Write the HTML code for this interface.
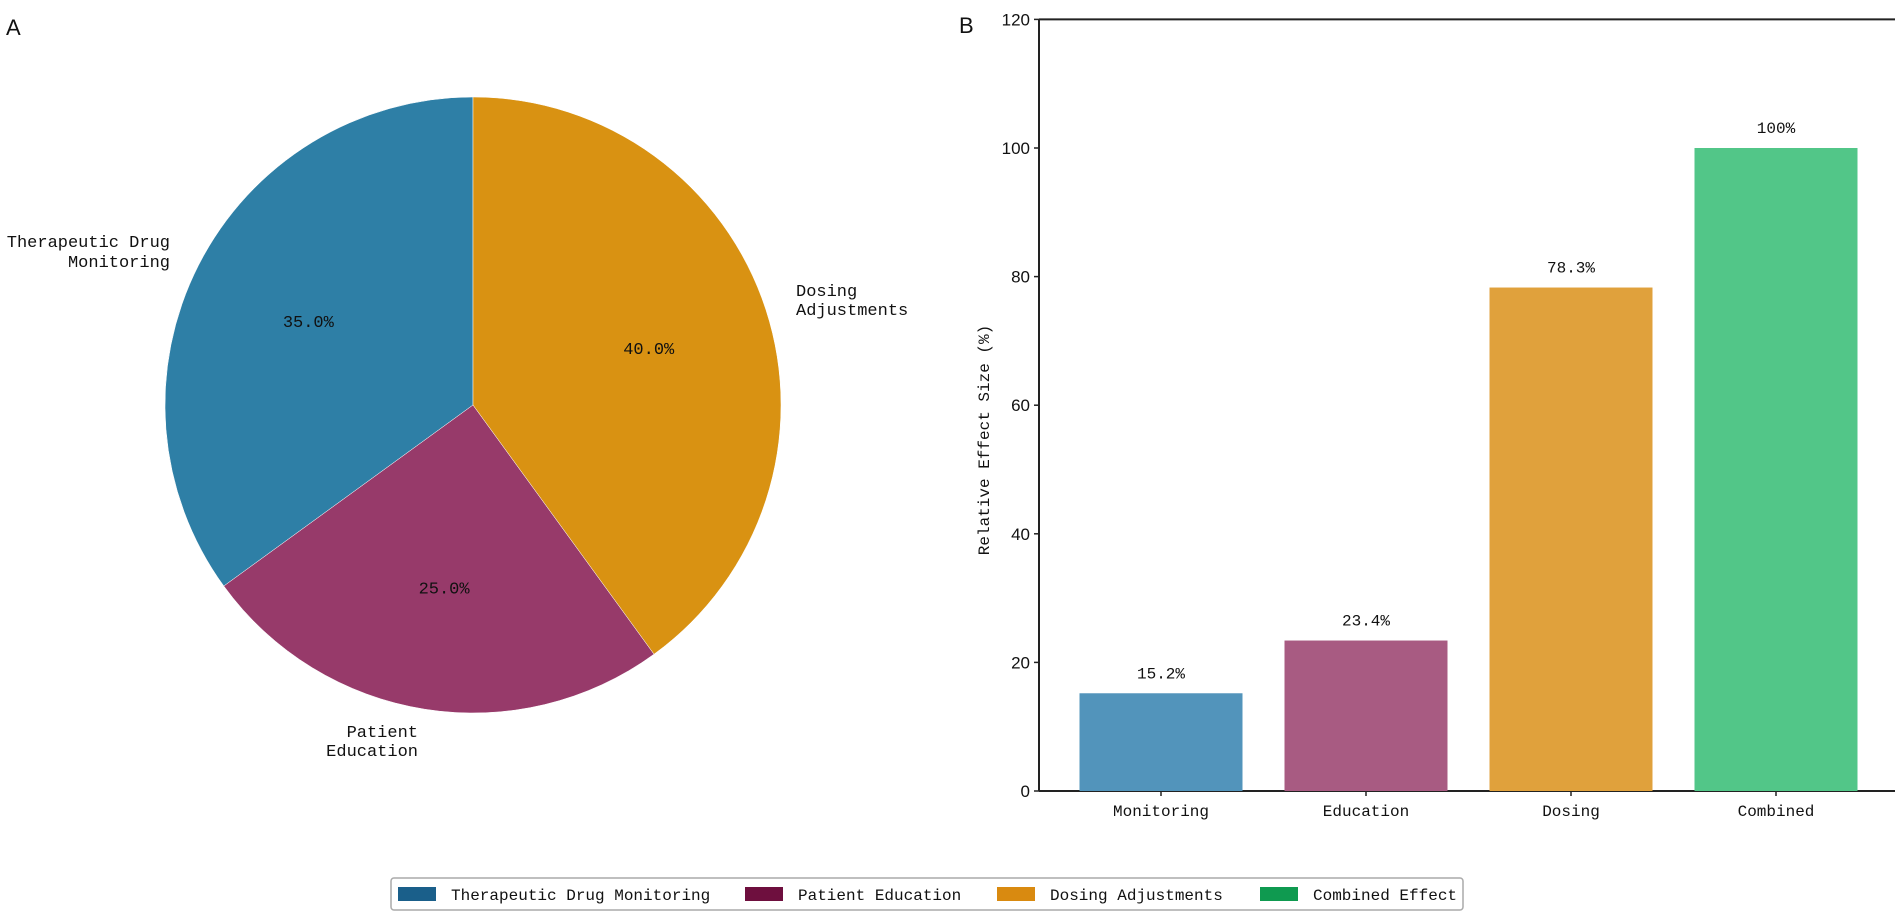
<!DOCTYPE html>
<html><head><meta charset="utf-8"><style>
html,body{margin:0;padding:0;background:#fff;}
svg{display:block;font-family:"Liberation Mono","Noto Sans CJK SC",monospace;}
</style></head><body>
<svg id="c" width="1902" height="917" viewBox="0 0 1902 917">
<rect width="1902" height="917" fill="#fff"/>
<text x="6" y="35" font-size="22" fill="#111" font-family="Liberation Sans, sans-serif">A</text>
<text x="959" y="33" font-size="22" fill="#111" font-family="Liberation Sans, sans-serif">B</text>
<g id="pie"></g>
<g id="bars"></g>
<g id="legend"></g>
</svg>
<script>
const pieLabels = ["Therapeutic Drug Monitoring","Patient Education","Dosing Adjustments"];
const pieValues = [35,25,40];
const pieColors = ["#2e7fa6","#973a6a","#d99212"];
const barCats = ["Monitoring","Education","Dosing","Combined"];
const barValues = [15.2,23.4,78.3,100];
const barText = ["15.2%","23.4%","78.3%","100%"];
const barColors = ["#5294bb","#a85b82","#e0a13c","#52c688"];
const yTicks = [0,20,40,60,80,100,120];
const legendLabels = ["Therapeutic Drug Monitoring","Patient Education","Dosing Adjustments","Combined Effect"];
const legendColors = ["#1a5f8a","#6e0f3e","#d98a10","#0f9a50"];

const NS="http://www.w3.org/2000/svg";
function mk(tag,attrs,parent){const e=document.createElementNS(NS,tag);for(const k in attrs)e.setAttribute(k,attrs[k]);parent.appendChild(e);return e;}

// Pie
const pie=document.getElementById('pie');
const cx=473,cy=405,R=308;
const total=pieValues.reduce((a,b)=>a+b,0);
let ang=90;
const pieLabelPos=[
 {lines:["Therapeutic Drug","Monitoring"],x:170,y:[247,267],anchor:"end"},
 {lines:["Patient","Education"],x:418,y:[737,756],anchor:"end"},
 {lines:["Dosing","Adjustments"],x:796,y:[296,315],anchor:"start"}
];
pieValues.forEach((v,i)=>{
  const a0=ang*Math.PI/180, a1=(ang+v/total*360)*Math.PI/180;
  const x0=cx+R*Math.cos(a0),y0=cy-R*Math.sin(a0),x1=cx+R*Math.cos(a1),y1=cy-R*Math.sin(a1);
  const large=(v/total>0.5)?1:0;
  const p=mk('path',{d:`M${cx},${cy} L${x0},${y0} A${R},${R} 0 ${large} 0 ${x1},${y1} Z`,fill:pieColors[i],stroke:"#fff","stroke-width":0.5},pie);
  
  
  const mid=(a0+a1)/2;
  const t=mk('text',{x:cx+0.6*R*Math.cos(mid),y:cy-0.6*R*Math.sin(mid)+6,"text-anchor":"middle","font-size":17,fill:"#111"},pie);
  t.textContent=v.toFixed(1)+"%";
  
  
  const lp=pieLabelPos[i];
  lp.lines.forEach((ln,j)=>{
    const tl=mk('text',{x:lp.x,y:lp.y[j],"text-anchor":lp.anchor,"font-size":17,fill:"#111"},pie);
    tl.textContent=ln;
    
    
  });
  ang+=v/total*360;
});

// Bars
const bars=document.getElementById('bars');
const X0=1039,Y0=791,PX=6.43;
const yS=v=>Y0-v*PX;
const xC=i=>1161+i*205;
const bw=163;
const ya=mk('line',{x1:X0,y1:yS(120),x2:X0,y2:Y0,stroke:"#222","stroke-width":2},bars);


const xa=mk('line',{x1:X0,y1:Y0,x2:1895,y2:Y0,stroke:"#222","stroke-width":2},bars);


const ts=mk('line',{x1:X0,y1:yS(120),x2:1895,y2:yS(120),stroke:"#222","stroke-width":2},bars);


yTicks.forEach(v=>{
  const l=mk('line',{x1:X0-5,y1:yS(v),x2:X0,y2:yS(v),stroke:"#222","stroke-width":1.5},bars);
  
  
  const t=mk('text',{x:X0-9,y:yS(v)+6,"text-anchor":"end","font-size":17,fill:"#111","font-family":"Liberation Sans, sans-serif"},bars);
  t.textContent=v;
  
  
});
const yt=mk('text',{x:0,y:0,transform:"translate(989,440) rotate(-90)","text-anchor":"middle","font-size":16,fill:"#111"},bars);
yt.textContent="Relative Effect Size (%)";


barValues.forEach((v,i)=>{
  const r=mk('rect',{x:xC(i)-bw/2,y:yS(v),width:bw,height:Y0-yS(v),fill:barColors[i]},bars);
  
  
  const t=mk('text',{x:xC(i),y:yS(v)-15,"text-anchor":"middle","font-size":16,fill:"#111"},bars);
  t.textContent=barText[i];
  
  
  const tk=mk('line',{x1:xC(i),y1:Y0,x2:xC(i),y2:Y0+5,stroke:"#222","stroke-width":1.5},bars);
  
  
  const c=mk('text',{x:xC(i),y:Y0+25,"text-anchor":"middle","font-size":16,fill:"#111"},bars);
  c.textContent=barCats[i];
  
  
});

// Legend
const lg=document.getElementById('legend');
const lb=mk('rect',{x:391,y:878,width:1072,height:32,fill:"#fff",stroke:"#aaa","stroke-width":1.5,rx:3},lg);


const patchX=[398,745,997,1260];
legendLabels.forEach((s,i)=>{
  const p=mk('rect',{x:patchX[i],y:887,width:38,height:14,fill:legendColors[i]},lg);
  
  
  const t=mk('text',{x:patchX[i]+53,y:900,"font-size":16,fill:"#111"},lg);
  t.textContent=s;
  
  
});
</script>
</body></html>
